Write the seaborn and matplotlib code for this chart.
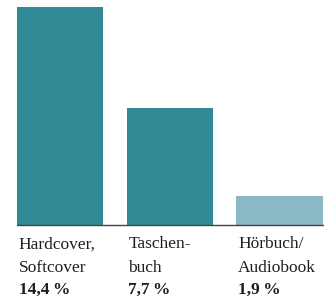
import matplotlib
matplotlib.use("Agg")
import matplotlib.pyplot as plt
import seaborn as sns
import pandas as pd
from matplotlib.transforms import blended_transform_factory

categories = ["Hardcover,\nSoftcover", "Taschen-\nbuch", "Hörbuch/\nAudiobook"]
values = [14.4, 7.7, 1.9]
value_labels = ["14,4\u2009%", "7,7\u2009%", "1,9\u2009%"]
colors = ["#318a96", "#318a96", "#8ab8c4"]

sns.set_theme(style="white")
plt.rcParams["font.family"] = ["Liberation Serif", "DejaVu Serif"]

W, H = 324, 299
fig = plt.figure(figsize=(W / 100, H / 100), dpi=100)
ax = fig.add_axes([17 / W, (H - 225) / H, (W - 17) / W, (225 - 7) / H])

df = pd.DataFrame({"cat": categories, "val": values})
bw = 0.788
sns.barplot(data=df, x="cat", y="val", hue="cat", palette=colors, legend=False,
            width=bw, ax=ax, saturation=1, linewidth=0)
ax.set_xlim(-bw / 2, 2 + bw / 2 + 0.01)
ax.set_ylim(0, max(values))
ax.axhline(0, color="#444444", lw=1.0, clip_on=False)
for s in ax.spines.values():
    s.set_visible(False)
ax.set_xticks([])
ax.set_yticks([])
ax.set_xlabel("")
ax.set_ylabel("")

trans = blended_transform_factory(ax.transData, fig.transFigure)
fs = 12.5
dx = 0.015
for i, (c, v) in enumerate(zip(categories, value_labels)):
    x = i - bw / 2 + dx
    l1, l2 = c.split("\n")
    ax.text(x, (H - 248.5) / H, l1, transform=trans, ha="left", va="baseline",
            fontsize=fs, color="#1e1e1e")
    ax.text(x, (H - 272.5) / H, l2, transform=trans, ha="left", va="baseline",
            fontsize=fs, color="#1e1e1e")
    ax.text(x, (H - 294) / H, v, transform=trans, ha="left", va="baseline",
            fontsize=fs, color="#1e1e1e", fontweight="bold")

fig.savefig("out.png", dpi=100)
